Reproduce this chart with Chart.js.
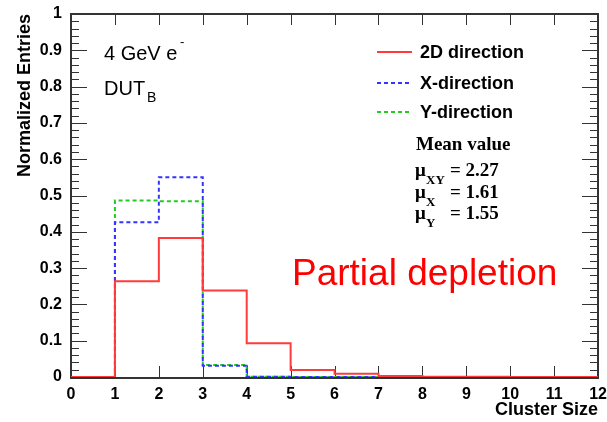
<!DOCTYPE html>
<html>
<head>
<meta charset="utf-8">
<script src="https://cdn.jsdelivr.net/npm/chart.js@4.4.0/dist/chart.umd.min.js"></script>
<style>
  html, body { margin: 0; padding: 0; background: #fff; }
  #wrap { width: 607px; height: 422px; }
</style>
</head>
<body>
<div id="wrap"><canvas id="grafico" width="607" height="422"></canvas></div>
<script>
// bin edges of the cluster size histogram
const binEdges = [0, 1, 2, 3, 4, 5, 6, 7, 8, 9, 10, 11, 12];
// normalized entries per bin (bin i = [i, i+1))
const dir2D = [0, 0.264, 0.383, 0.238, 0.093, 0.019, 0.009, 0.003, 0.001, 0.0005, 0.0003, 0.0003];
const dirX  = [0, 0.426, 0.550, 0.031, 0.001, 0, 0, 0, 0, 0, 0, 0];
const dirY  = [0, 0.486, 0.484, 0.033, 0.001, 0, 0, 0, 0, 0, 0, 0];

const seriesNames = ['2D direction', 'X-direction', 'Y-direction'];
const meanLabels = ['XY', 'X', 'Y'];
const meanValues = [2.27, 1.61, 1.55];

const yTicks = [0, 0.1, 0.2, 0.3, 0.4, 0.5, 0.6, 0.7, 0.8, 0.9, 1];
const xTicks = [0, 1, 2, 3, 4, 5, 6, 7, 8, 9, 10, 11, 12];

const ROJO = '#ff3b3b', AZUL = '#3434ff', VERDE = '#22cc22';

// histogram -> step points (stepped 'before' keeps value of previous point)
function puntos(vals) {
  return binEdges.map((x, i) => ({ x, y: vals[Math.min(i, vals.length - 1)] }));
}

const SANS = '"Liberation Sans", Arial, sans-serif';
const SERIF = '"Liberation Serif", "Times New Roman", serif';

// frame + ROOT-like inside ticks (under the histograms) and text annotations (on top)
const marcoPlugin = {
  id: 'marco',
  beforeDatasetsDraw(chart) {
    const ctx = chart.ctx;
    const sx = chart.scales.x, sy = chart.scales.y;
    const L = Math.round(sx.getPixelForValue(0)), R = Math.round(sx.getPixelForValue(12));
    const T = Math.round(sy.getPixelForValue(1)), B = Math.round(sy.getPixelForValue(0));
    ctx.save();
    ctx.fillStyle = '#333333';
    // frame
    ctx.fillRect(L - 1, T - 1, R - L + 2, 2);
    ctx.fillRect(L - 1, B, R - L + 2, 2);
    ctx.fillRect(L - 1, T - 1, 2, B - T + 3);
    ctx.fillRect(R - 1, T - 1, 2, B - T + 3);
    // y ticks both sides: majors every 0.1, minors every 0.02
    for (let k = 0; k <= 50; k++) {
      const y = Math.round(sy.getPixelForValue(k * 0.02));
      const len = k % 5 === 0 ? 16 : 8;
      ctx.fillRect(L, y, len, 1);
      ctx.fillRect(R - len, y, len, 1);
    }
    // x ticks bottom and top
    xTicks.forEach(v => {
      const x = Math.round(sx.getPixelForValue(v));
      ctx.fillRect(x, B - 11, 1, 11);
      ctx.fillRect(x, T, 1, 11);
    });
    ctx.restore();
  },
  afterDraw(chart) {
    const ctx = chart.ctx;
    ctx.save();
    // legend
    const colores = [ROJO, AZUL, VERDE];
    const dashes = [[], [4, 3], [4, 3]];
    const ly = [52, 83, 112];
    ctx.font = 'bold 18px ' + SANS;
    ctx.textBaseline = 'middle';
    seriesNames.forEach((n, i) => {
      ctx.strokeStyle = colores[i];
      ctx.lineWidth = 2;
      ctx.setLineDash(dashes[i]);
      ctx.beginPath();
      ctx.moveTo(377, ly[i]); ctx.lineTo(412, ly[i]);
      ctx.stroke();
      ctx.setLineDash([]);
      ctx.fillStyle = '#000';
      ctx.fillText(n, 420, ly[i] + 1);
    });

    // mean values
    ctx.textBaseline = 'alphabetic';
    ctx.font = 'bold 19px ' + SERIF;
    ctx.fillText('Mean value', 416, 150);
    const my = [176, 198, 219];
    meanLabels.forEach((m, i) => {
      ctx.font = 'bold 19px ' + SERIF;
      ctx.fillText('\u03bc', 415, my[i]);
      ctx.font = 'bold 13px ' + SERIF;
      ctx.fillText(m, 426, my[i] + 8);
      ctx.font = 'bold 19px ' + SERIF;
      ctx.fillText('= ' + meanValues[i].toFixed(2), 450, my[i]);
    });

    // beam / device labels
    ctx.font = '20px ' + SANS;
    ctx.fillText('4 GeV e', 104, 60);
    ctx.font = '13px ' + SANS;
    ctx.fillText('-', 180, 46);
    ctx.font = '20px ' + SANS;
    ctx.fillText('DUT', 104, 95);
    ctx.font = '14px ' + SANS;
    ctx.fillText('B', 147, 102);

    ctx.fillStyle = '#ff0000';
    ctx.font = '37px ' + SANS;
    ctx.fillText('Partial depletion', 292, 285);
    ctx.restore();
  }
};

function dataset(label, vals, color, dash, width) {
  return {
    label,
    data: puntos(vals),
    borderColor: color,
    borderWidth: width,
    borderDash: dash,
    stepped: true,
    pointRadius: 0,
    fill: false
  };
}

new Chart(document.getElementById('grafico'), {
  type: 'line',
  data: {
    datasets: [
      dataset(seriesNames[0], dir2D, ROJO, [], 2),
      dataset(seriesNames[1], dirX, AZUL, [4, 3], 2),
      dataset(seriesNames[2], dirY, VERDE, [4, 3], 2)
    ]
  },
  options: {
    responsive: false,
    animation: false,
    layout: { padding: { top: 14, right: 5, left: 0, bottom: 0 } },
    plugins: { legend: { display: false }, tooltip: { enabled: false } },
    scales: {
      x: {
        type: 'linear',
        min: 0, max: 12,
        afterFit: s => { s.height = 45; },
        afterBuildTicks: s => { s.ticks = xTicks.map(v => ({ value: v })); },
        grid: { display: false },
        border: { display: false },
        ticks: {
          padding: 0,
          color: '#000',
          maxRotation: 0,
          autoSkip: false,
          font: { family: SANS, size: 16, weight: 'bold' }
        },
        title: {
          display: true,
          text: 'Cluster Size',
          align: 'end',
          color: '#000',
          padding: { top: 0, bottom: 1 },
          font: { family: SANS, size: 18, weight: 'bold' }
        }
      },
      y: {
        type: 'linear',
        min: 0, max: 1,
        afterFit: s => { s.width = 71; },
        afterBuildTicks: s => { s.ticks = yTicks.map(v => ({ value: v })); },
        grid: { display: false },
        border: { display: false },
        ticks: {
          padding: 1,
          color: '#000',
          autoSkip: false,
          font: { family: SANS, size: 16, weight: 'bold' },
          callback: v => String(Math.round(v * 10) / 10)
        },
        title: {
          display: true,
          text: 'Normalized Entries',
          align: 'end',
          color: '#000',
          padding: { top: 14, bottom: 0 },
          font: { family: SANS, size: 18, weight: 'bold' }
        }
      }
    }
  },
  plugins: [marcoPlugin]
});
</script>
</body>
</html>
